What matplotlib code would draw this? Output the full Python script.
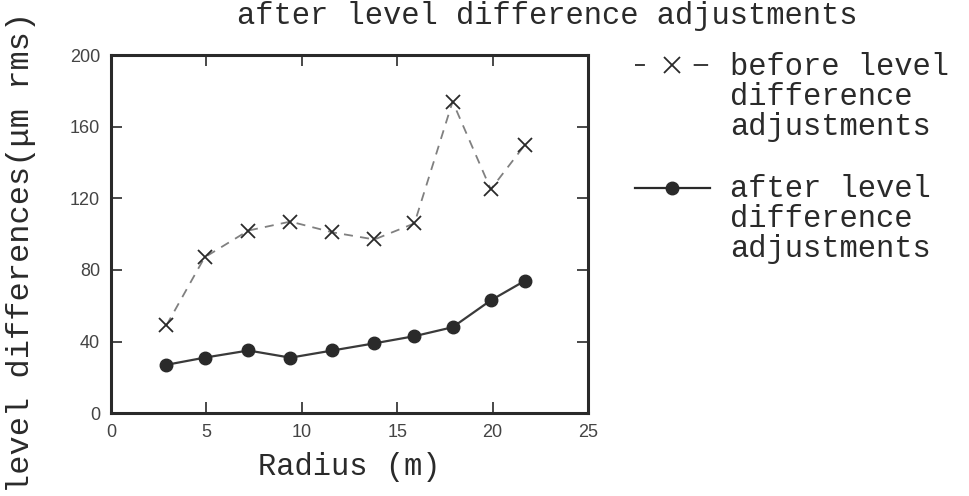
import matplotlib
matplotlib.use("Agg")
import matplotlib.pyplot as plt
from matplotlib.lines import Line2D

# radius (m) and level differences (um rms)
radius = [2.9, 4.9, 7.2, 9.4, 11.6, 13.8, 15.9, 17.9, 19.9, 21.7]
before_adj = [49, 87, 102, 107, 101, 97, 106, 174, 125, 150]
after_adj = [27, 31, 35, 31, 35, 39, 43, 48, 63, 74]

x_ticks = [0, 5, 10, 15, 20, 25]
y_ticks = [0, 40, 80, 120, 160, 200]

labels = [["before level", "difference", "adjustments"],
          ["after level", "difference", "adjustments"]]

mono = "Liberation Mono"
sans = "Liberation Sans"
ink = "#2a2a2a"
W, H = 969, 496

fig = plt.figure(figsize=(W / 100, H / 100), dpi=100)
ax = fig.add_axes([0.1146, 0.167, 0.4923, 0.722])

dash_style = dict(linestyle=(0, (5, 4)), color="#808080", linewidth=1.3,
                  marker="x", markersize=10, markeredgewidth=1.3,
                  markeredgecolor=ink)
dot_style = dict(linestyle="-", color="#3a3a3a", linewidth=1.6, marker="o",
                 markersize=9, markerfacecolor=ink, markeredgecolor=ink)

ax.plot(radius, before_adj, **dash_style)
ax.plot(radius, after_adj, **dot_style)

ax.set_xlim(0, 25)
ax.set_ylim(0, 200)
ax.set_xticks(x_ticks)
ax.set_yticks(y_ticks)
ax.tick_params(direction="in", length=8, width=1.2, top=True, right=True,
               colors=ink, labelsize=13, pad=8)
for lab in ax.get_xticklabels() + ax.get_yticklabels():
    lab.set_fontfamily(sans)
    lab.set_color("#444444")
for sp in ax.spines.values():
    sp.set_linewidth(2.2)
    sp.set_color(ink)

ax.set_xlabel("Radius (m)", fontfamily=mono, fontsize=22, color=ink,
              labelpad=8)
fig.text(0.022, 1 - 252 / H, "level differences(\u03bcm rms)", rotation=90,
         ha="center", va="center", fontfamily=mono, fontsize=23, color=ink)

# title (cut off at the top of the original scan)
fig.text(0.565, 1 - 1 / H, "after level difference adjustments",
         ha="center", va="top", fontfamily=mono, fontsize=22, color=ink)

# hand-made legend: handle next to the first text line
handle_lines = [dict(linestyle=(0, (5.5, 27, 8, 100)), color=ink, linewidth=1.3),
                dict(linestyle="-", color=ink, linewidth=1.6)]
handle_marks = [dict(marker="x", markersize=11, markeredgewidth=1.3),
                dict(marker="o", markersize=9, markerfacecolor=ink)]
handle_y = [65, 188]
first_base = [75, 197]
for ls, mk, hy, base, lines in zip(handle_lines, handle_marks, handle_y,
                                    first_base, labels):
    fig.add_artist(Line2D([635 / W, 710 / W], [1 - hy / H, 1 - hy / H],
                          transform=fig.transFigure, **ls))
    fig.add_artist(Line2D([672 / W], [1 - hy / H], transform=fig.transFigure,
                          linestyle="none", markeredgecolor=ink, **mk))
    for i, line in enumerate(lines):
        fig.text(730 / W, 1 - (base + 30 * i) / H, line, ha="left",
                 va="baseline", fontfamily=mono, fontsize=22, color=ink)

fig.savefig("out.png", dpi=100)
